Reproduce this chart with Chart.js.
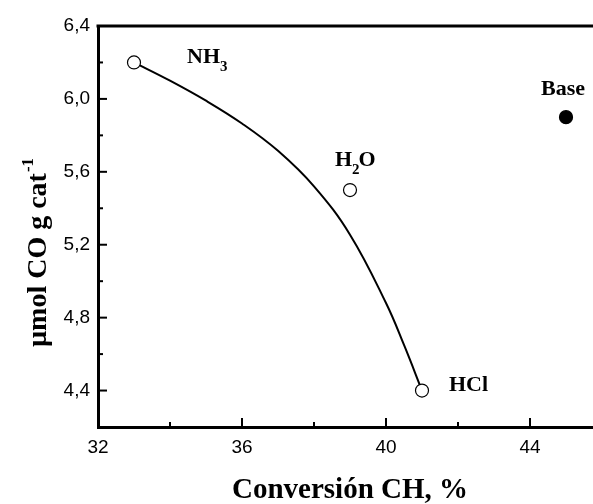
<!DOCTYPE html>
<html>
<head>
<meta charset="utf-8">
<script src="https://cdn.jsdelivr.net/npm/chart.js@4"></script>
<style>
    body { margin: 0; background: #fff; }
    #wrap { width: 593px; height: 504px; }
</style>
</head>
<body>
<div id="wrap"><canvas id="coChart" width="593" height="504"></canvas></div>
<script>
// Data
const sampleNames = ['NH3', 'H2O', 'HCl', 'Base'];
const conversion = [33, 39, 41, 45];
const coUptake = [6.2, 5.5, 4.4, 5.9];

// fitted trend line through the treated samples
const fitX = [33, 34, 35, 36, 37, 38, 39, 40, 40.5, 41];
const fitY = [6.2, 6.1, 5.99, 5.865, 5.715, 5.52, 5.255, 4.88, 4.65, 4.4];

const xMajorTicks = [32, 36, 40, 44];
const xMinorTicks = [34, 38, 42];
const yMajorTicks = [4.4, 4.8, 5.2, 5.6, 6.0, 6.4];
const yMinorTicks = [4.6, 5.0, 5.4, 5.8, 6.2];

const comma = v => v.toFixed(1).replace('.', ',');

// label pieces: [text, isSubscript], offset in px from the point
const labelParts = {
    NH3: { parts: [['NH', false], ['3', true]], dx: 53, dy: 1 },
    H2O: { parts: [['H', false], ['2', true], ['O', false]], dx: -15, dy: -24 },
    HCl: { parts: [['HCl', false]], dx: 27, dy: 0 },
    Base: { parts: [['Base', false]], dx: -25, dy: -22 }
};

const decorPlugin = {
    id: 'decor',
    afterDraw(chart) {
        const ctx = chart.ctx;
        const area = chart.chartArea;
        const xs = chart.scales.x;
        const ys = chart.scales.y;
        ctx.save();
        ctx.strokeStyle = '#000';
        ctx.fillStyle = '#000';

        // top frame line
        ctx.lineWidth = 3;
        ctx.beginPath();
        ctx.moveTo(area.left - 1.5, area.top);
        ctx.lineTo(chart.width, area.top);
        ctx.stroke();

        // inward ticks
        ctx.lineWidth = 2;
        const xTick = (v, len) => {
            const px = xs.getPixelForValue(v);
            ctx.beginPath();
            ctx.moveTo(px, area.bottom);
            ctx.lineTo(px, area.bottom - len);
            ctx.stroke();
        };
        const yTick = (v, len) => {
            const py = ys.getPixelForValue(v);
            ctx.beginPath();
            ctx.moveTo(area.left, py);
            ctx.lineTo(area.left + len, py);
            ctx.stroke();
        };
        xMajorTicks.forEach(v => xTick(v, 9));
        xMinorTicks.forEach(v => xTick(v, 5));
        yMajorTicks.forEach(v => yTick(v, 9));
        yMinorTicks.forEach(v => yTick(v, 5));

        // point labels
        const mainFont = 'bold 22px "Liberation Serif", "Times New Roman", serif';
        const subFont = 'bold 15px "Liberation Serif", "Times New Roman", serif';
        ctx.textBaseline = 'alphabetic';
        ctx.textAlign = 'left';
        sampleNames.forEach((name, i) => {
            const cfg = labelParts[name];
            let x = xs.getPixelForValue(conversion[i]) + cfg.dx;
            const y = ys.getPixelForValue(coUptake[i]) + cfg.dy;
            cfg.parts.forEach(([txt, sub]) => {
                ctx.font = sub ? subFont : mainFont;
                ctx.fillText(txt, x, sub ? y + 8 : y);
                x += ctx.measureText(txt).width - (sub ? 1 : 0);
            });
        });

        // x axis title
        ctx.font = 'bold 29px "Liberation Serif", "Times New Roman", serif';
        ctx.textAlign = 'center';
        ctx.fillText('Conversión CH, %', 350, 498);

        // y axis title with superscript
        ctx.translate(46, 253);
        ctx.rotate(-Math.PI / 2);
        const mainTxt = 'µmol CO g cat';
        ctx.font = 'bold 28px "Liberation Serif", "Times New Roman", serif';
        const w1 = ctx.measureText(mainTxt).width;
        ctx.font = 'bold 17px "Liberation Serif", "Times New Roman", serif';
        const w2 = ctx.measureText('-1').width;
        const start = -(w1 + w2) / 2;
        ctx.textAlign = 'left';
        ctx.font = 'bold 28px "Liberation Serif", "Times New Roman", serif';
        ctx.fillText(mainTxt, start, 0);
        ctx.font = 'bold 17px "Liberation Serif", "Times New Roman", serif';
        ctx.fillText('-1', start + w1 + 1, -13);
        ctx.restore();
    }
};

const tickFont = { family: '"Liberation Sans", Arial, sans-serif', size: 19 };

new Chart(document.getElementById('coChart'), {
    type: 'scatter',
    data: {
        datasets: [
            {
                label: 'samples',
                data: conversion.map((x, i) => ({ x: x, y: coUptake[i] })),
                pointRadius: 6.5,
                pointBorderWidth: 1.2,
                pointBorderColor: '#000',
                pointBackgroundColor: sampleNames.map(n => n === 'Base' ? '#000' : '#fff'),
                order: 0
            },
            {
                label: 'fit',
                data: fitX.map((x, i) => ({ x: x, y: fitY[i] })),
                showLine: true,
                borderColor: '#000',
                borderWidth: 2,
                pointRadius: 0,
                tension: 0.4,
                order: 1
            }
        ]
    },
    options: {
        responsive: false,
        animation: false,
        layout: { autoPadding: false, padding: { top: 26, right: 0, left: 0, bottom: 0 } },
        plugins: {
            legend: { display: false },
            tooltip: { enabled: false }
        },
        scales: {
            x: {
                min: 32,
                max: 45.75,
                grid: { display: false, drawTicks: false },
                border: { display: true, width: 3, color: '#000' },
                afterBuildTicks: scale => { scale.ticks = xMajorTicks.map(v => ({ value: v })); },
                afterFit: scale => {
                    scale.height = 77;
                    scale.paddingLeft = 0;
                    scale.paddingRight = 0;
                },
                ticks: {
                    font: tickFont,
                    color: '#000',
                    padding: 9,
                    maxRotation: 0,
                    callback: v => String(v)
                }
            },
            y: {
                min: 4.2,
                max: 6.4,
                grid: { display: false, drawTicks: false },
                border: { display: true, width: 3, color: '#000' },
                afterBuildTicks: scale => { scale.ticks = yMajorTicks.map(v => ({ value: v })); },
                afterFit: scale => {
                    scale.width = 98;
                    scale.paddingTop = 0;
                    scale.paddingBottom = 0;
                },
                ticks: {
                    font: tickFont,
                    color: '#000',
                    padding: 8,
                    callback: v => comma(v)
                }
            }
        }
    },
    plugins: [decorPlugin]
});
</script>
</body>
</html>
